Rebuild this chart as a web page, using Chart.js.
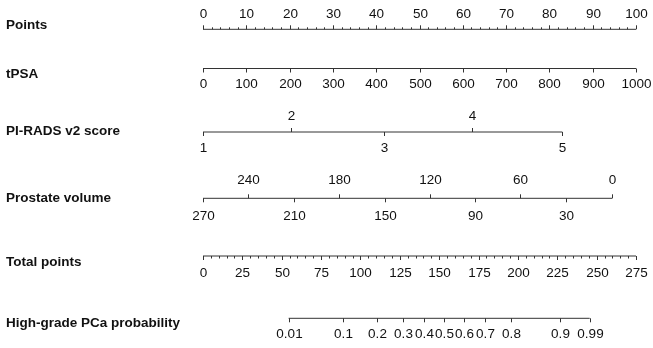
<!DOCTYPE html>
<html lang="en">
<head>
<meta charset="UTF-8">
<title>Nomogram</title>
<script src="https://cdn.jsdelivr.net/npm/chart.js"></script>
<style>
  body { margin: 0; background: #fff; }
  #wrap { width: 653px; height: 348px; }
</style>
</head>
<body>
<div id="wrap"><canvas id="nomo" width="653" height="348"></canvas></div>
<script>
// row titles
var rowNames = ["Points", "tPSA", "PI-RADS v2 score", "Prostate volume", "Total points", "High-grade PCa probability"];

// points scale
var pointsLabels = [0, 10, 20, 30, 40, 50, 60, 70, 80, 90, 100];
var pointsMinorStep = 2;

// tPSA (0..1000 -> 0..100 points)
var tpsaLabels = [0, 100, 200, 300, 400, 500, 600, 700, 800, 900, 1000];
var tpsaMax = 1000;

// PI-RADS score -> points
var piradsScores = [1, 2, 3, 4, 5];
var piradsPoints = [0, 20.3, 41.9, 62.2, 83.0];

// prostate volume -> points
var volumeLabels = [270, 240, 210, 180, 150, 120, 90, 60, 30, 0];
var volumePoints = [0, 10.5, 21.0, 31.5, 42.0, 52.4, 62.8, 73.3, 83.9, 94.5];

// total points
var totalLabels = [0, 25, 50, 75, 100, 125, 150, 175, 200, 225, 250, 275];
var totalMax = 275;
var totalMinorStep = 5;

// probability ticks, placed on the total points scale
var probLabels = ["0.01", "0.1", "0.2", "0.3", "0.4", "0.5", "0.6", "0.7", "0.8", "0.9", "0.99"];
var probTotalPoints = [54.4, 89.0, 110.3, 126.8, 140.4, 153.3, 165.8, 179.2, 195.3, 226.9, 245.6];

// layout (pixel rows)
var rowY = [29.3, 68.5, 132, 198.3, 256, 318.3];
var titleY = [25, 74, 131, 198, 262, 323];
var labelGap = [15, 15.5, 16, 18, 17, 16];

function tp2pts(t) { return t * 100 / totalMax; }

// build tick lists per row: p = position in points, up = tick above line
var rows = [];
var r0 = [];
for (var p = 0; p <= 100; p += pointsMinorStep) {
  if (p % 10 !== 0) r0.push({ p: p, up: true, len: 2 });
}
pointsLabels.forEach(function (v) { r0.push({ p: v, up: true, len: 4, text: String(v) }); });
rows.push(r0);

rows.push(tpsaLabels.map(function (v) { return { p: v * 100 / tpsaMax, up: false, len: 4, text: String(v) }; }));

rows.push(piradsScores.map(function (s, i) { return { p: piradsPoints[i], up: i % 2 === 1, len: 4, text: String(s) }; }));

rows.push(volumeLabels.map(function (v, i) { return { p: volumePoints[i], up: i % 2 === 1, len: 4, text: String(v) }; }));

var r4 = [];
for (var t = 0; t <= totalMax; t += totalMinorStep) {
  if (t % 25 !== 0) r4.push({ p: tp2pts(t), up: false, len: 2.5 });
}
totalLabels.forEach(function (v) { r4.push({ p: tp2pts(v), up: false, len: 4, text: String(v) }); });
rows.push(r4);

rows.push(probLabels.map(function (l, i) { return { p: tp2pts(probTotalPoints[i]), up: false, len: 4, text: l }; }));

// axis lines as datasets
var datasets = rows.map(function (ticks, i) {
  var ps = ticks.map(function (k) { return k.p; });
  return {
    data: [{ x: Math.min.apply(null, ps), y: rowY[i] }, { x: Math.max.apply(null, ps), y: rowY[i] }],
    showLine: true,
    borderColor: '#333',
    borderWidth: 1,
    pointRadius: 0
  };
});

var nomoPlugin = {
  id: 'nomo',
  afterDatasetsDraw: function (chart) {
    var ctx = chart.ctx, xs = chart.scales.x, ys = chart.scales.y;
    ctx.save();
    ctx.strokeStyle = '#333';
    ctx.lineWidth = 1;
    ctx.fillStyle = '#111';
    ctx.textAlign = 'center';
    ctx.textBaseline = 'middle';
    ctx.font = '13.5px "Liberation Sans", Arial, sans-serif';
    rows.forEach(function (ticks, i) {
      var y = ys.getPixelForValue(rowY[i]);
      ticks.forEach(function (k) {
        var x = Math.round(xs.getPixelForValue(k.p)) + 0.5;
        var dir = k.up ? -1 : 1;
        ctx.beginPath();
        ctx.moveTo(x, y);
        ctx.lineTo(x, y + dir * k.len);
        ctx.stroke();
        if (k.text !== undefined) {
          ctx.fillText(k.text, x, y + dir * labelGap[i]);
        }
      });
    });
    ctx.textAlign = 'left';
    ctx.font = 'bold 13.5px "Liberation Sans", Arial, sans-serif';
    rowNames.forEach(function (n, i) {
      ctx.fillText(n, 6, ys.getPixelForValue(titleY[i]));
    });
    ctx.restore();
  }
};

new Chart('nomo', {
  type: 'scatter',
  data: { datasets: datasets },
  options: {
    responsive: false,
    animation: false,
    layout: { padding: { left: 203, right: 17, top: 0, bottom: 0 } },
    plugins: { legend: { display: false }, tooltip: { enabled: false } },
    scales: {
      x: { type: 'linear', min: 0, max: 100, display: false },
      y: { type: 'linear', min: 0, max: 348, reverse: true, display: false }
    }
  },
  plugins: [nomoPlugin]
});
</script>
</body>
</html>
